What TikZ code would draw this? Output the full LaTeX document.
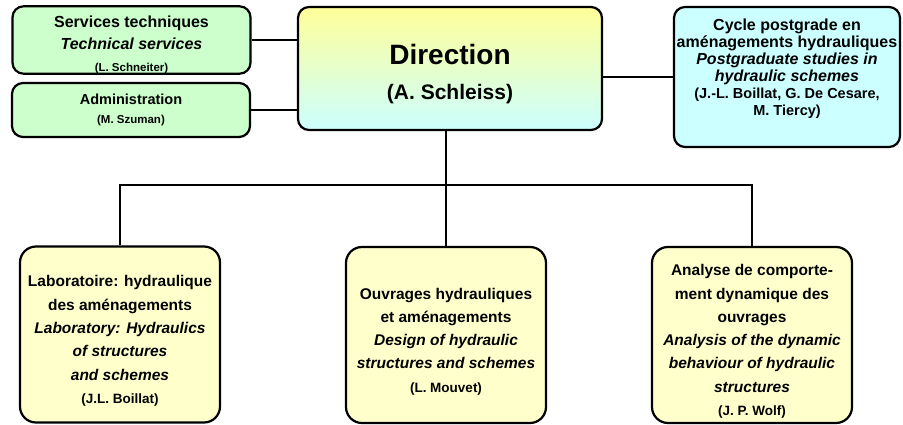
\documentclass[tikz,border=0pt]{standalone}
\usepackage{fontspec}
\setmainfont{Liberation Sans}
\usepackage{tikz}
\usetikzlibrary{positioning}

\definecolor{svcgreen}{HTML}{CCFFCC}
\definecolor{cyccyan}{HTML}{CCFFFF}
\definecolor{dirtop}{HTML}{FFFF99}
\definecolor{unityellow}{HTML}{FFFFCC}

\newcommand{\who}[1]{{\fontsize{11.5}{15}\selectfont #1}}
\newcommand{\unitwho}[1]{{\fontsize{13.5}{17}\selectfont #1}}
\newcommand{\topgap}{\rule{0pt}{24pt}}

\tikzset{
  orgbox/.style={draw, line width=2.2pt, rounded corners=11pt, align=center, font=\bfseries},
  topbox/.style={orgbox, fill=svcgreen, minimum width=238pt},
  unitbox/.style={orgbox, fill=unityellow, rounded corners=16pt, minimum width=200pt, minimum height=176pt, font=\bfseries\fontsize{15.5}{23.3}\selectfont},
  link/.style={line width=2.6pt}
}

\begin{document}
\begin{tikzpicture}[x=1pt, y=-1pt]
				\useasboundingbox (0,0) rectangle (903,425);

				\node[topbox, inner ysep=0pt, minimum height=66pt, font=\bfseries\fontsize{16}{22}\selectfont] (svc) at (131.5,40) {\rule{0pt}{21pt}Services techniques\\ \textit{Technical services}\\ \who{(L. Schneiter)}};
				\node[topbox, minimum height=54pt, font=\bfseries\fontsize{14.5}{19}\selectfont] (adm) at (131,110) {Administration\\ \who{(M. Szuman)}};
				\node[orgbox, top color=dirtop, bottom color=cyccyan, minimum width=304pt, minimum height=123pt, font=\bfseries\fontsize{21}{35}\selectfont] (dir) at (450,68.5)
					{{\fontsize{28}{35}\selectfont\rule{0pt}{32pt}Direction}\\ (A. Schleiss)};
				\node[orgbox, fill=cyccyan, inner xsep=0pt, minimum width=226pt, minimum height=140pt, text depth=20pt, font=\bfseries\fontsize{16}{17}\selectfont] (cyc) at (787,77)
					{Cycle postgrade en\\ aménagements hydrauliques\\ \textit{Postgraduate studies in}\\ \textit{hydraulic schemes}\\ {\fontsize{14.5}{17}\selectfont (J.-L. Boillat, G. De Cesare,}\\ {\fontsize{14.5}{17}\selectfont M. Tiercy)}};

				\node[unitbox] (lab) at (120,334.5) {\topgap Laboratoire: hydraulique\\ des aménagements\\ \textit{Laboratory: Hydraulics}\\ \textit{of structures}\\ \textit{and schemes}\\ \unitwho{(J.L. Boillat)}};
				\node[unitbox] (ouv) at (446,335) {\topgap Ouvrages hydrauliques\\ et aménagements\\ \textit{Design of hydraulic}\\ \textit{structures and schemes}\\ \unitwho{(L. Mouvet)}};
				\node[unitbox] (ana) at (752,335) {\topgap Analyse de comporte-\\ ment dynamique des\\ ouvrages\\ \textit{Analysis of the dynamic}\\ \textit{behaviour of hydraulic}\\ \textit{structures}\\ \unitwho{(J. P. Wolf)}};

				\coordinate (bus) at (446,185);

				\draw[link] (svc.east) -- (svc.east -| dir.west);
				\draw[link] (adm.east) -- (adm.east -| dir.west);
				\draw[link] (cyc.west) -- (cyc.west -| dir.east);
				\draw[link] (dir.south -| bus) -- (bus);
				\draw[link] (lab.north) |- (bus) -| (ana.north);
				\draw[link] (bus) -- (ouv.north);
			\end{tikzpicture}
\end{document}
